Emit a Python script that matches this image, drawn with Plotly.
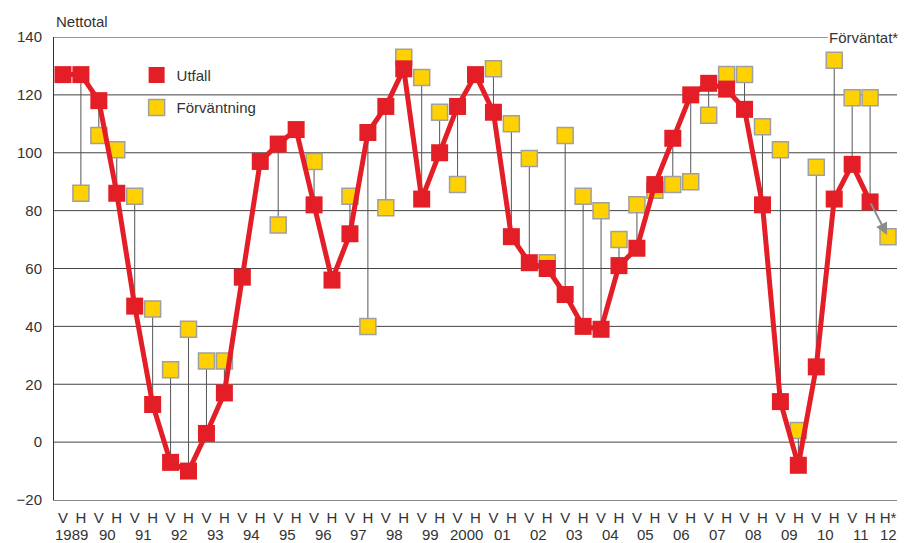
import plotly.graph_objects as go

# Halvår: V = vår, H = höst; sista punkten är en prognos (H*)
halvar = ["V", "H"] * 23 + ["H*"]
ar = ["1989", "90", "91", "92", "93", "94", "95", "96", "97", "98", "99",
      "2000", "01", "02", "03", "04", "05", "06", "07", "08", "09", "10", "11", "12"]

utfall = [127, 127, 118, 86, 47, 13, -7, -10, 3, 17, 57, 97, 103, 108, 82, 56,
          72, 107, 116, 129, 84, 100, 116, 127, 114, 71, 62, 60, 51, 40, 39, 61,
          67, 89, 105, 120, 124, 122, 115, 82, 14, -8, 26, 84, 96, 83]
forvantning = [None, 86, 106, 101, 85, 46, 25, 39, 28, 28, None, None, 75, None,
               97, None, 85, 40, 81, 133, 126, 114, 89, None, 129, 110, 98, 62,
               106, 85, 80, 70, 82, 87, 89, 90, 113, 127, 127, 109, 101, 4, 95,
               132, 119, 119, 71]

RED = "#E31E26"
YELLOW = "#FFD100"
FONT = "Liberation Sans, Arial, sans-serif"
TXT = "#333333"

x_all = list(range(len(halvar)))
x_utf = x_all[:len(utfall)]

# vertical connectors between expectation and outcome
cx, cy = [], []
for i, (u, f) in enumerate(zip(utfall, forvantning)):
    if f is None:
        continue
    cx += [i, i, None]
    cy += [f, u, None]

fig = go.Figure()
fig.add_trace(go.Scatter(x=cx, y=cy, mode="lines", showlegend=False,
                         line=dict(color="#555555", width=1), hoverinfo="skip"))
fig.add_trace(go.Scatter(x=x_all, y=forvantning, mode="markers", name="Förväntning",
                         legendgroup="b", legendrank=2,
                         marker=dict(symbol="square", size=16, color=YELLOW,
                                     line=dict(color="#A0A0A0", width=1.5))))
fig.add_trace(go.Scatter(x=x_utf, y=utfall, mode="lines", showlegend=False,
                         line=dict(color=RED, width=5)))
fig.add_trace(go.Scatter(x=x_utf, y=utfall, mode="markers", name="Utfall",
                         legendgroup="a", legendrank=1,
                         marker=dict(symbol="square", size=17, color=RED)))

# horizontal grid
shapes = []
for v in range(0, 140, 20):
    shapes.append(dict(type="line", xref="paper", yref="y", x0=0, x1=1, y0=v, y1=v,
                       line=dict(color="#444444", width=1), layer="below"))
shapes.append(dict(type="line", xref="paper", yref="y", x0=0, x1=0.918, y0=140, y1=140,
                   line=dict(color="#333333", width=1), layer="below"))

annotations = []
for k, a in enumerate(ar):
    xpos = 2 * k + 0.5 if k < 23 else len(halvar) - 1
    annotations.append(dict(x=xpos, y=0, xref="x", yref="paper", text=a,
                            showarrow=False, yanchor="middle", yshift=-34,
                            borderpad=0,
                            font=dict(size=15, color=TXT, family=FONT)))
annotations.append(dict(x=0, y=1, xref="paper", yref="paper", text="Nettotal",
                        showarrow=False, xanchor="left", yanchor="middle", yshift=16,
                        font=dict(size=15, color=TXT, family=FONT)))
annotations.append(dict(x=1, y=1, xref="paper", yref="paper", text="Förväntat*",
                        showarrow=False, xanchor="right", yanchor="middle", xshift=2,
                        borderpad=0,
                        font=dict(size=15, color=TXT, family=FONT)))
# prognos arrow from last outcome to forecast
annotations.append(dict(x=x_all[-1], y=forvantning[-1], ax=x_utf[-1], ay=utfall[-1],
                        xref="x", yref="y", axref="x", ayref="y", text="",
                        showarrow=True, arrowhead=2, arrowsize=1.2, arrowwidth=2,
                        arrowcolor="#8C8C8C", standoff=2))

# the page has an 8px body margin, so the figure is drawn 8px smaller
fig.update_layout(
    width=898, height=535,
    margin=dict(l=41, r=9, t=29, b=43),
    plot_bgcolor="white", paper_bgcolor="white",
    font=dict(family=FONT, size=15, color=TXT),
    shapes=shapes, annotations=annotations,
    legend=dict(x=0.098, y=0.953, xanchor="left", yanchor="top",
                bgcolor="rgba(0,0,0,0)", tracegroupgap=10,
                font=dict(size=15, color=TXT, family=FONT)),
    xaxis=dict(range=[-0.5, len(halvar) - 0.5], tickvals=x_all, ticktext=halvar,
               showgrid=False, zeroline=False, showline=True, linecolor="#888888",
               linewidth=1, ticks="outside", ticklen=4, tickcolor="white",
               tickfont=dict(size=15, color=TXT)),
    yaxis=dict(range=[-20, 140], tickvals=list(range(-20, 141, 20)), showgrid=False,
               zeroline=False, showline=True, linecolor="#333333", linewidth=1,
               ticks="", ticklabelstandoff=8,
               tickfont=dict(size=15, color=TXT)),
)

fig.write_html("out.html")
